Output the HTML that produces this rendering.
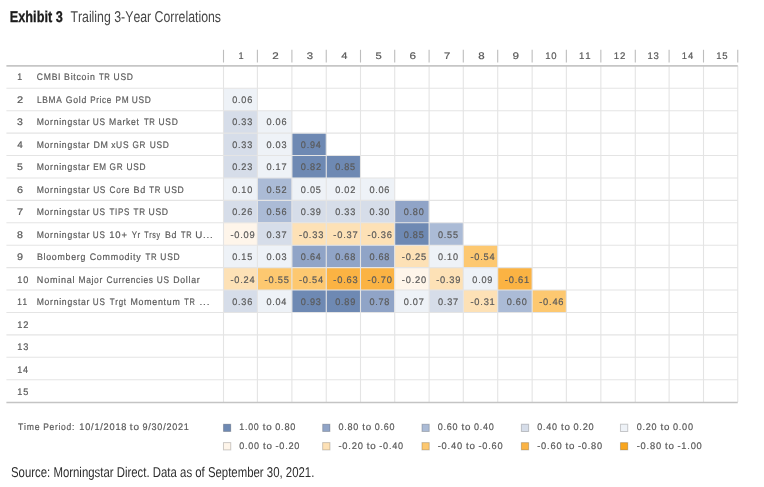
<!DOCTYPE html>
<html><head><meta charset="utf-8"><style>
html,body{margin:0;padding:0;background:#fff;width:764px;height:487px;overflow:hidden}
svg{position:absolute;left:0;top:0;will-change:transform}
text{font-kerning:none;text-rendering:geometricPrecision}
.t{font-family:"Liberation Sans",sans-serif;font-size:9.5px;fill:#5a5a5a;stroke:#5a5a5a;stroke-width:0.2px;letter-spacing:0.8px}
.h{font-family:"Liberation Sans",sans-serif}
</style></head><body>
<svg width="764" height="487" viewBox="0 0 764 487">
<text x="9.85" y="21.95" class="h" textLength="52.91" lengthAdjust="spacingAndGlyphs" font-weight="bold" font-size="15.6" fill="#1c1c1c" stroke="#1c1c1c" stroke-width="0.3">Exhibit 3</text>
<text x="70.42" y="21.95" class="h" textLength="150.62" lengthAdjust="spacingAndGlyphs" font-size="15.6" fill="#474747">Trailing 3-Year Correlations</text>
<rect x="223.5" y="88.27" width="33.9" height="22.42" fill="#eef2f7"/>
<rect x="223.5" y="110.68" width="33.9" height="22.42" fill="#d6dde9"/>
<rect x="257.4" y="110.68" width="34.5" height="22.42" fill="#eef2f7"/>
<rect x="223.5" y="133.1" width="33.9" height="22.42" fill="#d6dde9"/>
<rect x="257.4" y="133.1" width="34.5" height="22.42" fill="#eef2f7"/>
<rect x="291.9" y="133.1" width="34.35" height="22.42" fill="#6e89b3"/>
<rect x="223.5" y="155.52" width="33.9" height="22.42" fill="#d6dde9"/>
<rect x="257.4" y="155.52" width="34.5" height="22.42" fill="#eef2f7"/>
<rect x="291.9" y="155.52" width="34.35" height="22.42" fill="#6e89b3"/>
<rect x="326.25" y="155.52" width="34.25" height="22.42" fill="#6e89b3"/>
<rect x="223.5" y="177.94" width="33.9" height="22.42" fill="#eef2f7"/>
<rect x="257.4" y="177.94" width="34.5" height="22.42" fill="#abbbd6"/>
<rect x="291.9" y="177.94" width="34.35" height="22.42" fill="#eef2f7"/>
<rect x="326.25" y="177.94" width="34.25" height="22.42" fill="#eef2f7"/>
<rect x="360.5" y="177.94" width="34.2" height="22.42" fill="#eef2f7"/>
<rect x="223.5" y="200.35" width="33.9" height="22.42" fill="#d6dde9"/>
<rect x="257.4" y="200.35" width="34.5" height="22.42" fill="#abbbd6"/>
<rect x="291.9" y="200.35" width="34.35" height="22.42" fill="#d6dde9"/>
<rect x="326.25" y="200.35" width="34.25" height="22.42" fill="#d6dde9"/>
<rect x="360.5" y="200.35" width="34.2" height="22.42" fill="#d6dde9"/>
<rect x="394.7" y="200.35" width="34.4" height="22.42" fill="#90a4c7"/>
<rect x="223.5" y="222.77" width="33.9" height="22.42" fill="#fef5ea"/>
<rect x="257.4" y="222.77" width="34.5" height="22.42" fill="#d6dde9"/>
<rect x="291.9" y="222.77" width="34.35" height="22.42" fill="#fde1b6"/>
<rect x="326.25" y="222.77" width="34.25" height="22.42" fill="#fde1b6"/>
<rect x="360.5" y="222.77" width="34.2" height="22.42" fill="#fde1b6"/>
<rect x="394.7" y="222.77" width="34.4" height="22.42" fill="#6e89b3"/>
<rect x="429.1" y="222.77" width="34.2" height="22.42" fill="#abbbd6"/>
<rect x="223.5" y="245.19" width="33.9" height="22.42" fill="#eef2f7"/>
<rect x="257.4" y="245.19" width="34.5" height="22.42" fill="#eef2f7"/>
<rect x="291.9" y="245.19" width="34.35" height="22.42" fill="#90a4c7"/>
<rect x="326.25" y="245.19" width="34.25" height="22.42" fill="#90a4c7"/>
<rect x="360.5" y="245.19" width="34.2" height="22.42" fill="#90a4c7"/>
<rect x="394.7" y="245.19" width="34.4" height="22.42" fill="#fde1b6"/>
<rect x="429.1" y="245.19" width="34.2" height="22.42" fill="#eef2f7"/>
<rect x="463.3" y="245.19" width="34.4" height="22.42" fill="#fdc870"/>
<rect x="223.5" y="267.6" width="33.9" height="22.42" fill="#fde1b6"/>
<rect x="257.4" y="267.6" width="34.5" height="22.42" fill="#fdc870"/>
<rect x="291.9" y="267.6" width="34.35" height="22.42" fill="#fdc870"/>
<rect x="326.25" y="267.6" width="34.25" height="22.42" fill="#fbb343"/>
<rect x="360.5" y="267.6" width="34.2" height="22.42" fill="#fbb343"/>
<rect x="394.7" y="267.6" width="34.4" height="22.42" fill="#fef5ea"/>
<rect x="429.1" y="267.6" width="34.2" height="22.42" fill="#fde1b6"/>
<rect x="463.3" y="267.6" width="34.4" height="22.42" fill="#eef2f7"/>
<rect x="497.7" y="267.6" width="34.45" height="22.42" fill="#fbb343"/>
<rect x="223.5" y="290.02" width="33.9" height="22.42" fill="#d6dde9"/>
<rect x="257.4" y="290.02" width="34.5" height="22.42" fill="#eef2f7"/>
<rect x="291.9" y="290.02" width="34.35" height="22.42" fill="#6e89b3"/>
<rect x="326.25" y="290.02" width="34.25" height="22.42" fill="#6e89b3"/>
<rect x="360.5" y="290.02" width="34.2" height="22.42" fill="#90a4c7"/>
<rect x="394.7" y="290.02" width="34.4" height="22.42" fill="#eef2f7"/>
<rect x="429.1" y="290.02" width="34.2" height="22.42" fill="#d6dde9"/>
<rect x="463.3" y="290.02" width="34.4" height="22.42" fill="#fde1b6"/>
<rect x="497.7" y="290.02" width="34.45" height="22.42" fill="#abbbd6"/>
<rect x="532.15" y="290.02" width="34.2" height="22.42" fill="#fdc870"/>
<line x1="6.4" x2="737.75" y1="88.27" y2="88.27" stroke="#e4e4e4" stroke-width="1.1"/>
<line x1="6.4" x2="737.75" y1="110.68" y2="110.68" stroke="#e4e4e4" stroke-width="1.1"/>
<line x1="6.4" x2="737.75" y1="133.1" y2="133.1" stroke="#e4e4e4" stroke-width="1.1"/>
<line x1="6.4" x2="737.75" y1="155.52" y2="155.52" stroke="#e4e4e4" stroke-width="1.1"/>
<line x1="6.4" x2="737.75" y1="177.94" y2="177.94" stroke="#e4e4e4" stroke-width="1.1"/>
<line x1="6.4" x2="737.75" y1="200.35" y2="200.35" stroke="#e4e4e4" stroke-width="1.1"/>
<line x1="6.4" x2="737.75" y1="222.77" y2="222.77" stroke="#e4e4e4" stroke-width="1.1"/>
<line x1="6.4" x2="737.75" y1="245.19" y2="245.19" stroke="#e4e4e4" stroke-width="1.1"/>
<line x1="6.4" x2="737.75" y1="267.6" y2="267.6" stroke="#e4e4e4" stroke-width="1.1"/>
<line x1="6.4" x2="737.75" y1="290.02" y2="290.02" stroke="#e4e4e4" stroke-width="1.1"/>
<line x1="6.4" x2="737.75" y1="312.44" y2="312.44" stroke="#e4e4e4" stroke-width="1.1"/>
<line x1="6.4" x2="737.75" y1="334.85" y2="334.85" stroke="#e4e4e4" stroke-width="1.1"/>
<line x1="6.4" x2="737.75" y1="357.27" y2="357.27" stroke="#e4e4e4" stroke-width="1.1"/>
<line x1="6.4" x2="737.75" y1="379.69" y2="379.69" stroke="#e4e4e4" stroke-width="1.1"/>
<line x1="223.5" x2="223.5" y1="65.85" y2="402.11" stroke="#e4e4e4" stroke-width="1.1"/>
<line x1="257.4" x2="257.4" y1="65.85" y2="402.11" stroke="#e4e4e4" stroke-width="1.1"/>
<line x1="291.9" x2="291.9" y1="65.85" y2="402.11" stroke="#e4e4e4" stroke-width="1.1"/>
<line x1="326.25" x2="326.25" y1="65.85" y2="402.11" stroke="#e4e4e4" stroke-width="1.1"/>
<line x1="360.5" x2="360.5" y1="65.85" y2="402.11" stroke="#e4e4e4" stroke-width="1.1"/>
<line x1="394.7" x2="394.7" y1="65.85" y2="402.11" stroke="#e4e4e4" stroke-width="1.1"/>
<line x1="429.1" x2="429.1" y1="65.85" y2="402.11" stroke="#e4e4e4" stroke-width="1.1"/>
<line x1="463.3" x2="463.3" y1="65.85" y2="402.11" stroke="#e4e4e4" stroke-width="1.1"/>
<line x1="497.7" x2="497.7" y1="65.85" y2="402.11" stroke="#e4e4e4" stroke-width="1.1"/>
<line x1="532.15" x2="532.15" y1="65.85" y2="402.11" stroke="#e4e4e4" stroke-width="1.1"/>
<line x1="566.35" x2="566.35" y1="65.85" y2="402.11" stroke="#e4e4e4" stroke-width="1.1"/>
<line x1="600.85" x2="600.85" y1="65.85" y2="402.11" stroke="#e4e4e4" stroke-width="1.1"/>
<line x1="635.3" x2="635.3" y1="65.85" y2="402.11" stroke="#e4e4e4" stroke-width="1.1"/>
<line x1="669.1" x2="669.1" y1="65.85" y2="402.11" stroke="#e4e4e4" stroke-width="1.1"/>
<line x1="703.5" x2="703.5" y1="65.85" y2="402.11" stroke="#e4e4e4" stroke-width="1.1"/>
<line x1="737.75" x2="737.75" y1="65.85" y2="402.11" stroke="#e4e4e4" stroke-width="1.1"/>
<line x1="6.4" x2="737.75" y1="65.9" y2="65.9" stroke="#c6c6c6" stroke-width="1.9"/>
<line x1="6.4" x2="737.75" y1="402.5" y2="402.5" stroke="#c4c4c4" stroke-width="1.4"/>
<line x1="223.5" x2="223.5" y1="49.8" y2="62.5" stroke="#bdbdbd" stroke-width="1.1"/>
<line x1="257.4" x2="257.4" y1="49.8" y2="62.5" stroke="#bdbdbd" stroke-width="1.1"/>
<line x1="291.9" x2="291.9" y1="49.8" y2="62.5" stroke="#bdbdbd" stroke-width="1.1"/>
<line x1="326.25" x2="326.25" y1="49.8" y2="62.5" stroke="#bdbdbd" stroke-width="1.1"/>
<line x1="360.5" x2="360.5" y1="49.8" y2="62.5" stroke="#bdbdbd" stroke-width="1.1"/>
<line x1="394.7" x2="394.7" y1="49.8" y2="62.5" stroke="#bdbdbd" stroke-width="1.1"/>
<line x1="429.1" x2="429.1" y1="49.8" y2="62.5" stroke="#bdbdbd" stroke-width="1.1"/>
<line x1="463.3" x2="463.3" y1="49.8" y2="62.5" stroke="#bdbdbd" stroke-width="1.1"/>
<line x1="497.7" x2="497.7" y1="49.8" y2="62.5" stroke="#bdbdbd" stroke-width="1.1"/>
<line x1="532.15" x2="532.15" y1="49.8" y2="62.5" stroke="#bdbdbd" stroke-width="1.1"/>
<line x1="566.35" x2="566.35" y1="49.8" y2="62.5" stroke="#bdbdbd" stroke-width="1.1"/>
<line x1="600.85" x2="600.85" y1="49.8" y2="62.5" stroke="#bdbdbd" stroke-width="1.1"/>
<line x1="635.3" x2="635.3" y1="49.8" y2="62.5" stroke="#bdbdbd" stroke-width="1.1"/>
<line x1="669.1" x2="669.1" y1="49.8" y2="62.5" stroke="#bdbdbd" stroke-width="1.1"/>
<line x1="703.5" x2="703.5" y1="49.8" y2="62.5" stroke="#bdbdbd" stroke-width="1.1"/>
<line x1="737.75" x2="737.75" y1="49.8" y2="62.5" stroke="#bdbdbd" stroke-width="1.1"/>
<text x="238.61" y="59" class="t" textLength="5.9" lengthAdjust="spacingAndGlyphs">1</text>
<text x="272.18" y="59" class="t" textLength="7.45" lengthAdjust="spacingAndGlyphs">2</text>
<text x="306.85" y="59" class="t" textLength="7.29" lengthAdjust="spacingAndGlyphs">3</text>
<text x="341.27" y="59" class="t" textLength="7.12" lengthAdjust="spacingAndGlyphs">4</text>
<text x="375.46" y="59" class="t" textLength="7.16" lengthAdjust="spacingAndGlyphs">5</text>
<text x="409.57" y="59" class="t" textLength="7.5" lengthAdjust="spacingAndGlyphs">6</text>
<text x="444.04" y="59" class="t" textLength="7.18" lengthAdjust="spacingAndGlyphs">7</text>
<text x="478.26" y="59" class="t" textLength="7.37" lengthAdjust="spacingAndGlyphs">8</text>
<text x="512.64" y="59" class="t" textLength="7.49" lengthAdjust="spacingAndGlyphs">9</text>
<text x="545.24" y="59" class="t" textLength="12.17" lengthAdjust="spacingAndGlyphs">10</text>
<text x="579.08" y="59" class="t" textLength="12.28" lengthAdjust="spacingAndGlyphs">11</text>
<text x="613.76" y="59" class="t" textLength="12.3" lengthAdjust="spacingAndGlyphs">12</text>
<text x="647.44" y="59" class="t" textLength="12.23" lengthAdjust="spacingAndGlyphs">13</text>
<text x="681.85" y="59" class="t" textLength="12.07" lengthAdjust="spacingAndGlyphs">14</text>
<text x="716.26" y="59" class="t" textLength="12.21" lengthAdjust="spacingAndGlyphs">15</text>
<text x="17.33" y="80" class="t" textLength="5.64" lengthAdjust="spacingAndGlyphs">1</text>
<text x="36.86" y="80" class="t" textLength="24.35" lengthAdjust="spacingAndGlyphs">CMBI</text>
<text x="64.08" y="80" class="t" textLength="31.42" lengthAdjust="spacingAndGlyphs">Bitcoin</text>
<text x="98.93" y="80" class="t" textLength="11.58" lengthAdjust="spacingAndGlyphs">TR</text>
<text x="113.54" y="80" class="t" textLength="20.08" lengthAdjust="spacingAndGlyphs">USD</text>
<text x="16.95" y="103" class="t" textLength="7.03" lengthAdjust="spacingAndGlyphs">2</text>
<text x="36.92" y="103" class="t" textLength="25.5" lengthAdjust="spacingAndGlyphs">LBMA</text>
<text x="65.76" y="103" class="t" textLength="21.22" lengthAdjust="spacingAndGlyphs">Gold</text>
<text x="90.24" y="103" class="t" textLength="21.69" lengthAdjust="spacingAndGlyphs">Price</text>
<text x="115.52" y="103" class="t" textLength="13.86" lengthAdjust="spacingAndGlyphs">PM</text>
<text x="131.76" y="103" class="t" textLength="19.75" lengthAdjust="spacingAndGlyphs">USD</text>
<text x="17.1" y="125" class="t" textLength="6.75" lengthAdjust="spacingAndGlyphs">3</text>
<text x="36.69" y="125" class="t" textLength="53.48" lengthAdjust="spacingAndGlyphs">Morningstar</text>
<text x="92.86" y="125" class="t" textLength="12.92" lengthAdjust="spacingAndGlyphs">US</text>
<text x="108.99" y="125" class="t" textLength="30.7" lengthAdjust="spacingAndGlyphs">Market</text>
<text x="143.93" y="125" class="t" textLength="11.58" lengthAdjust="spacingAndGlyphs">TR</text>
<text x="158.55" y="125" class="t" textLength="19.97" lengthAdjust="spacingAndGlyphs">USD</text>
<text x="17.27" y="148" class="t" textLength="6.35" lengthAdjust="spacingAndGlyphs">4</text>
<text x="36.69" y="148" class="t" textLength="53.48" lengthAdjust="spacingAndGlyphs">Morningstar</text>
<text x="93.38" y="148" class="t" textLength="15.19" lengthAdjust="spacingAndGlyphs">DM</text>
<text x="111.21" y="148" class="t" textLength="17.99" lengthAdjust="spacingAndGlyphs">xUS</text>
<text x="132.59" y="148" class="t" textLength="13.57" lengthAdjust="spacingAndGlyphs">GR</text>
<text x="149.75" y="148" class="t" textLength="19.86" lengthAdjust="spacingAndGlyphs">USD</text>
<text x="17.08" y="170" class="t" textLength="6.75" lengthAdjust="spacingAndGlyphs">5</text>
<text x="36.69" y="170" class="t" textLength="53.48" lengthAdjust="spacingAndGlyphs">Morningstar</text>
<text x="93.14" y="170" class="t" textLength="13.51" lengthAdjust="spacingAndGlyphs">EM</text>
<text x="109.59" y="170" class="t" textLength="13.68" lengthAdjust="spacingAndGlyphs">GR</text>
<text x="126.46" y="170" class="t" textLength="19.64" lengthAdjust="spacingAndGlyphs">USD</text>
<text x="16.95" y="193" class="t" textLength="6.94" lengthAdjust="spacingAndGlyphs">6</text>
<text x="36.69" y="193" class="t" textLength="53.48" lengthAdjust="spacingAndGlyphs">Morningstar</text>
<text x="93.16" y="193" class="t" textLength="12.92" lengthAdjust="spacingAndGlyphs">US</text>
<text x="109.58" y="193" class="t" textLength="20.47" lengthAdjust="spacingAndGlyphs">Core</text>
<text x="133.46" y="193" class="t" textLength="12.59" lengthAdjust="spacingAndGlyphs">Bd</text>
<text x="149.33" y="193" class="t" textLength="11.69" lengthAdjust="spacingAndGlyphs">TR</text>
<text x="164.24" y="193" class="t" textLength="20.3" lengthAdjust="spacingAndGlyphs">USD</text>
<text x="16.94" y="215" class="t" textLength="7.04" lengthAdjust="spacingAndGlyphs">7</text>
<text x="36.69" y="215" class="t" textLength="53.48" lengthAdjust="spacingAndGlyphs">Morningstar</text>
<text x="92.86" y="215" class="t" textLength="12.92" lengthAdjust="spacingAndGlyphs">US</text>
<text x="109.42" y="215" class="t" textLength="20.52" lengthAdjust="spacingAndGlyphs">TIPS</text>
<text x="133.62" y="215" class="t" textLength="12.14" lengthAdjust="spacingAndGlyphs">TR</text>
<text x="148.43" y="215" class="t" textLength="20.41" lengthAdjust="spacingAndGlyphs">USD</text>
<text x="17.04" y="238" class="t" textLength="6.82" lengthAdjust="spacingAndGlyphs">8</text>
<text x="36.69" y="238" class="t" textLength="53.48" lengthAdjust="spacingAndGlyphs">Morningstar</text>
<text x="92.87" y="238" class="t" textLength="12.69" lengthAdjust="spacingAndGlyphs">US</text>
<text x="109.28" y="238" class="t" textLength="18.49" lengthAdjust="spacingAndGlyphs">10+</text>
<text x="131.63" y="238" class="t" textLength="9.27" lengthAdjust="spacingAndGlyphs">Yr</text>
<text x="144.34" y="238" class="t" textLength="16.28" lengthAdjust="spacingAndGlyphs">Trsy</text>
<text x="164.98" y="238" class="t" textLength="12.23" lengthAdjust="spacingAndGlyphs">Bd</text>
<text x="181.03" y="238" class="t" textLength="11.14" lengthAdjust="spacingAndGlyphs">TR</text>
<text x="195.25" y="238" class="t" textLength="18.35" lengthAdjust="spacingAndGlyphs">U...</text>
<text x="16.99" y="260" class="t" textLength="6.93" lengthAdjust="spacingAndGlyphs">9</text>
<text x="36.88" y="260" class="t" textLength="49.23" lengthAdjust="spacingAndGlyphs">Bloomberg</text>
<text x="89.65" y="260" class="t" textLength="51.82" lengthAdjust="spacingAndGlyphs">Commodity</text>
<text x="145.53" y="260" class="t" textLength="11.69" lengthAdjust="spacingAndGlyphs">TR</text>
<text x="160.35" y="260" class="t" textLength="19.97" lengthAdjust="spacingAndGlyphs">USD</text>
<text x="17.3" y="283" class="t" textLength="11.73" lengthAdjust="spacingAndGlyphs">10</text>
<text x="36.86" y="283" class="t" textLength="38.4" lengthAdjust="spacingAndGlyphs">Nominal</text>
<text x="78.51" y="283" class="t" textLength="24.43" lengthAdjust="spacingAndGlyphs">Major</text>
<text x="106.48" y="283" class="t" textLength="47.12" lengthAdjust="spacingAndGlyphs">Currencies</text>
<text x="156.86" y="283" class="t" textLength="12.92" lengthAdjust="spacingAndGlyphs">US</text>
<text x="173.29" y="283" class="t" textLength="27.09" lengthAdjust="spacingAndGlyphs">Dollar</text>
<text x="17.37" y="305" class="t" textLength="10.52" lengthAdjust="spacingAndGlyphs">11</text>
<text x="36.69" y="305" class="t" textLength="53.48" lengthAdjust="spacingAndGlyphs">Morningstar</text>
<text x="92.87" y="305" class="t" textLength="12.69" lengthAdjust="spacingAndGlyphs">US</text>
<text x="109.82" y="305" class="t" textLength="16.81" lengthAdjust="spacingAndGlyphs">Trgt</text>
<text x="130.48" y="305" class="t" textLength="50.05" lengthAdjust="spacingAndGlyphs">Momentum</text>
<text x="184.33" y="305" class="t" textLength="11.14" lengthAdjust="spacingAndGlyphs">TR</text>
<text x="199.49" y="305" class="t" textLength="10.87" lengthAdjust="spacingAndGlyphs">...</text>
<text x="17.3" y="328" class="t" textLength="11.85" lengthAdjust="spacingAndGlyphs">12</text>
<text x="17.3" y="350" class="t" textLength="11.78" lengthAdjust="spacingAndGlyphs">13</text>
<text x="17.31" y="373" class="t" textLength="11.62" lengthAdjust="spacingAndGlyphs">14</text>
<text x="17.3" y="395" class="t" textLength="11.76" lengthAdjust="spacingAndGlyphs">15</text>
<text x="232.24" y="103" class="t" textLength="20.83" lengthAdjust="spacingAndGlyphs">0.06</text>
<text x="232.24" y="125" class="t" textLength="20.83" lengthAdjust="spacingAndGlyphs">0.33</text>
<text x="266.44" y="125" class="t" textLength="20.83" lengthAdjust="spacingAndGlyphs">0.06</text>
<text x="232.24" y="148" class="t" textLength="20.83" lengthAdjust="spacingAndGlyphs">0.33</text>
<text x="266.44" y="148" class="t" textLength="20.83" lengthAdjust="spacingAndGlyphs">0.03</text>
<text x="300.87" y="148" class="t" textLength="20.68" lengthAdjust="spacingAndGlyphs">0.94</text>
<text x="232.24" y="170" class="t" textLength="20.83" lengthAdjust="spacingAndGlyphs">0.23</text>
<text x="266.44" y="170" class="t" textLength="20.89" lengthAdjust="spacingAndGlyphs">0.17</text>
<text x="300.87" y="170" class="t" textLength="20.89" lengthAdjust="spacingAndGlyphs">0.82</text>
<text x="335.17" y="170" class="t" textLength="20.81" lengthAdjust="spacingAndGlyphs">0.85</text>
<text x="232.24" y="193" class="t" textLength="20.78" lengthAdjust="spacingAndGlyphs">0.10</text>
<text x="266.44" y="193" class="t" textLength="20.89" lengthAdjust="spacingAndGlyphs">0.52</text>
<text x="300.87" y="193" class="t" textLength="20.81" lengthAdjust="spacingAndGlyphs">0.05</text>
<text x="335.17" y="193" class="t" textLength="20.89" lengthAdjust="spacingAndGlyphs">0.02</text>
<text x="369.39" y="193" class="t" textLength="20.83" lengthAdjust="spacingAndGlyphs">0.06</text>
<text x="232.24" y="215" class="t" textLength="20.83" lengthAdjust="spacingAndGlyphs">0.26</text>
<text x="266.44" y="215" class="t" textLength="20.83" lengthAdjust="spacingAndGlyphs">0.56</text>
<text x="300.87" y="215" class="t" textLength="20.86" lengthAdjust="spacingAndGlyphs">0.39</text>
<text x="335.17" y="215" class="t" textLength="20.83" lengthAdjust="spacingAndGlyphs">0.33</text>
<text x="369.39" y="215" class="t" textLength="20.78" lengthAdjust="spacingAndGlyphs">0.30</text>
<text x="403.69" y="215" class="t" textLength="20.78" lengthAdjust="spacingAndGlyphs">0.80</text>
<text x="230.39" y="238" class="t" textLength="25.14" lengthAdjust="spacingAndGlyphs">-0.09</text>
<text x="266.44" y="238" class="t" textLength="20.89" lengthAdjust="spacingAndGlyphs">0.37</text>
<text x="299.01" y="238" class="t" textLength="25.1" lengthAdjust="spacingAndGlyphs">-0.33</text>
<text x="333.31" y="238" class="t" textLength="25.17" lengthAdjust="spacingAndGlyphs">-0.37</text>
<text x="367.54" y="238" class="t" textLength="25.1" lengthAdjust="spacingAndGlyphs">-0.36</text>
<text x="403.69" y="238" class="t" textLength="20.81" lengthAdjust="spacingAndGlyphs">0.85</text>
<text x="437.99" y="238" class="t" textLength="20.81" lengthAdjust="spacingAndGlyphs">0.55</text>
<text x="232.24" y="260" class="t" textLength="20.81" lengthAdjust="spacingAndGlyphs">0.15</text>
<text x="266.44" y="260" class="t" textLength="20.83" lengthAdjust="spacingAndGlyphs">0.03</text>
<text x="300.87" y="260" class="t" textLength="20.68" lengthAdjust="spacingAndGlyphs">0.64</text>
<text x="335.17" y="260" class="t" textLength="20.82" lengthAdjust="spacingAndGlyphs">0.68</text>
<text x="369.39" y="260" class="t" textLength="20.82" lengthAdjust="spacingAndGlyphs">0.68</text>
<text x="401.84" y="260" class="t" textLength="25.09" lengthAdjust="spacingAndGlyphs">-0.25</text>
<text x="437.99" y="260" class="t" textLength="20.78" lengthAdjust="spacingAndGlyphs">0.10</text>
<text x="470.44" y="260" class="t" textLength="24.96" lengthAdjust="spacingAndGlyphs">-0.54</text>
<text x="230.39" y="283" class="t" textLength="24.96" lengthAdjust="spacingAndGlyphs">-0.24</text>
<text x="264.59" y="283" class="t" textLength="25.09" lengthAdjust="spacingAndGlyphs">-0.55</text>
<text x="299.01" y="283" class="t" textLength="24.96" lengthAdjust="spacingAndGlyphs">-0.54</text>
<text x="333.31" y="283" class="t" textLength="25.1" lengthAdjust="spacingAndGlyphs">-0.63</text>
<text x="367.54" y="283" class="t" textLength="25.06" lengthAdjust="spacingAndGlyphs">-0.70</text>
<text x="401.84" y="283" class="t" textLength="25.06" lengthAdjust="spacingAndGlyphs">-0.20</text>
<text x="436.14" y="283" class="t" textLength="25.14" lengthAdjust="spacingAndGlyphs">-0.39</text>
<text x="472.29" y="283" class="t" textLength="20.86" lengthAdjust="spacingAndGlyphs">0.09</text>
<text x="504.86" y="283" class="t" textLength="25.15" lengthAdjust="spacingAndGlyphs">-0.61</text>
<text x="232.24" y="305" class="t" textLength="20.83" lengthAdjust="spacingAndGlyphs">0.36</text>
<text x="266.45" y="305" class="t" textLength="20.68" lengthAdjust="spacingAndGlyphs">0.04</text>
<text x="300.87" y="305" class="t" textLength="20.83" lengthAdjust="spacingAndGlyphs">0.93</text>
<text x="335.17" y="305" class="t" textLength="20.86" lengthAdjust="spacingAndGlyphs">0.89</text>
<text x="369.39" y="305" class="t" textLength="20.82" lengthAdjust="spacingAndGlyphs">0.78</text>
<text x="403.69" y="305" class="t" textLength="20.89" lengthAdjust="spacingAndGlyphs">0.07</text>
<text x="437.99" y="305" class="t" textLength="20.89" lengthAdjust="spacingAndGlyphs">0.37</text>
<text x="470.44" y="305" class="t" textLength="25.15" lengthAdjust="spacingAndGlyphs">-0.31</text>
<text x="506.72" y="305" class="t" textLength="20.78" lengthAdjust="spacingAndGlyphs">0.60</text>
<text x="539.19" y="305" class="t" textLength="25.1" lengthAdjust="spacingAndGlyphs">-0.46</text>
<rect x="223.45" y="424.2" width="7.3" height="7.3" fill="#6e89b3" stroke="rgba(0,0,0,0.2)" stroke-width="1"/>
<text x="239.33" y="430" class="t" textLength="20.16" lengthAdjust="spacingAndGlyphs">1.00</text>
<text x="262.7" y="430" class="t" textLength="9.78" lengthAdjust="spacingAndGlyphs">to</text>
<text x="275.19" y="430" class="t" textLength="20.94" lengthAdjust="spacingAndGlyphs">0.80</text>
<rect x="322.65" y="424.2" width="7.3" height="7.3" fill="#90a4c7" stroke="rgba(0,0,0,0.2)" stroke-width="1"/>
<text x="338.55" y="430" class="t" textLength="20.56" lengthAdjust="spacingAndGlyphs">0.80</text>
<text x="362.3" y="430" class="t" textLength="9.78" lengthAdjust="spacingAndGlyphs">to</text>
<text x="374.8" y="430" class="t" textLength="20.4" lengthAdjust="spacingAndGlyphs">0.60</text>
<rect x="421.95" y="424.2" width="7.3" height="7.3" fill="#abbbd6" stroke="rgba(0,0,0,0.2)" stroke-width="1"/>
<text x="437.75" y="430" class="t" textLength="20.56" lengthAdjust="spacingAndGlyphs">0.60</text>
<text x="461.5" y="430" class="t" textLength="9.78" lengthAdjust="spacingAndGlyphs">to</text>
<text x="474" y="430" class="t" textLength="20.62" lengthAdjust="spacingAndGlyphs">0.40</text>
<rect x="521.35" y="424.2" width="7.3" height="7.3" fill="#d6dde9" stroke="rgba(0,0,0,0.2)" stroke-width="1"/>
<text x="537.25" y="430" class="t" textLength="20.56" lengthAdjust="spacingAndGlyphs">0.40</text>
<text x="561" y="430" class="t" textLength="9.78" lengthAdjust="spacingAndGlyphs">to</text>
<text x="573.49" y="430" class="t" textLength="20.94" lengthAdjust="spacingAndGlyphs">0.20</text>
<rect x="620.45" y="424.2" width="7.3" height="7.3" fill="#eef2f7" stroke="rgba(0,0,0,0.2)" stroke-width="1"/>
<text x="636.75" y="430" class="t" textLength="20.56" lengthAdjust="spacingAndGlyphs">0.20</text>
<text x="660.5" y="430" class="t" textLength="9.78" lengthAdjust="spacingAndGlyphs">to</text>
<text x="672.99" y="430" class="t" textLength="20.83" lengthAdjust="spacingAndGlyphs">0.00</text>
<rect x="223.45" y="442.6" width="7.3" height="7.3" fill="#fef5ea" stroke="rgba(0,0,0,0.2)" stroke-width="1"/>
<text x="239.25" y="449" class="t" textLength="20.56" lengthAdjust="spacingAndGlyphs">0.00</text>
<text x="263" y="449" class="t" textLength="9.78" lengthAdjust="spacingAndGlyphs">to</text>
<text x="275.44" y="449" class="t" textLength="24.79" lengthAdjust="spacingAndGlyphs">-0.20</text>
<rect x="322.65" y="442.6" width="7.3" height="7.3" fill="#fde1b6" stroke="rgba(0,0,0,0.2)" stroke-width="1"/>
<text x="338.49" y="449" class="t" textLength="25.16" lengthAdjust="spacingAndGlyphs">-0.20</text>
<text x="366.8" y="449" class="t" textLength="9.78" lengthAdjust="spacingAndGlyphs">to</text>
<text x="379.25" y="449" class="t" textLength="24.58" lengthAdjust="spacingAndGlyphs">-0.40</text>
<rect x="421.95" y="442.6" width="7.3" height="7.3" fill="#fdc870" stroke="rgba(0,0,0,0.2)" stroke-width="1"/>
<text x="437.69" y="449" class="t" textLength="25.16" lengthAdjust="spacingAndGlyphs">-0.40</text>
<text x="466" y="449" class="t" textLength="9.78" lengthAdjust="spacingAndGlyphs">to</text>
<text x="478.44" y="449" class="t" textLength="24.9" lengthAdjust="spacingAndGlyphs">-0.60</text>
<rect x="521.35" y="442.6" width="7.3" height="7.3" fill="#fbb343" stroke="rgba(0,0,0,0.2)" stroke-width="1"/>
<text x="537.19" y="449" class="t" textLength="25.16" lengthAdjust="spacingAndGlyphs">-0.60</text>
<text x="565.5" y="449" class="t" textLength="9.78" lengthAdjust="spacingAndGlyphs">to</text>
<text x="577.94" y="449" class="t" textLength="24.9" lengthAdjust="spacingAndGlyphs">-0.80</text>
<rect x="620.45" y="442.6" width="7.3" height="7.3" fill="#f9a61e" stroke="rgba(0,0,0,0.2)" stroke-width="1"/>
<text x="636.69" y="449" class="t" textLength="25.16" lengthAdjust="spacingAndGlyphs">-0.80</text>
<text x="665" y="449" class="t" textLength="9.78" lengthAdjust="spacingAndGlyphs">to</text>
<text x="677.44" y="449" class="t" textLength="25.11" lengthAdjust="spacingAndGlyphs">-1.00</text>
<text x="18.11" y="430" class="t" textLength="22.11" lengthAdjust="spacingAndGlyphs">Time</text>
<text x="43.21" y="430" class="t" textLength="31.78" lengthAdjust="spacingAndGlyphs">Period:</text>
<text x="79.3" y="430" class="t" textLength="47.87" lengthAdjust="spacingAndGlyphs">10/1/2018</text>
<text x="129.85" y="430" class="t" textLength="10.01" lengthAdjust="spacingAndGlyphs">to</text>
<text x="142.48" y="430" class="t" textLength="47.13" lengthAdjust="spacingAndGlyphs">9/30/2021</text>
<text x="10.98" y="477.2" class="h" textLength="303.36" lengthAdjust="spacingAndGlyphs" font-size="14.2" fill="#2e2e2e">Source: Morningstar Direct. Data as of September 30, 2021.</text>
</svg>
</body></html>
